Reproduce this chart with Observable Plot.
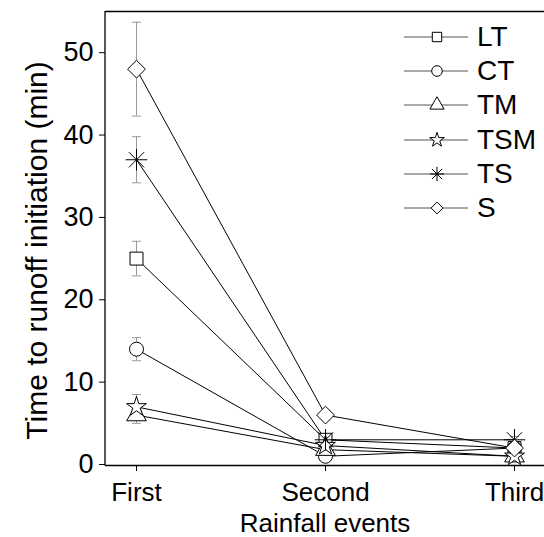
<!DOCTYPE html>
<html>
<head>
<meta charset="utf-8">
<script src="https://cdn.jsdelivr.net/npm/d3@7"></script>
<script src="https://cdn.jsdelivr.net/npm/@observablehq/plot@0.6"></script>
<style>
  html, body { margin: 0; padding: 0; background: #fff; }
  #wrap { position: relative; width: 544px; height: 537px; font-family: "Liberation Sans", Arial, sans-serif; }
  #legend { position: absolute; left: 404px; top: 20px; }
  .row { display: flex; align-items: center; height: 34.2px; }
  .row span { font-size: 28px; color: #000; margin-left: 9px; }
</style>
</head>
<body>
<div id="wrap"><div id="legend"></div></div>
<script>
// ---- data ----
const events = ["First", "Second", "Third"];
const seriesNames = ["LT", "CT", "TM", "TSM", "TS", "S"];
const LT  = [25, 3, 2];
const CT  = [14, 1, 2];
const TM  = [6, 1.8, 1];
const TSM = [7, 2.3, 1];
const TS  = [37, 3, 3];
const S   = [48, 6, 2];
const LT_err  = [2.1, 0.5, 0.4];
const CT_err  = [1.4, 0.4, 0.3];
const TM_err  = [1.0, 0.4, 0.3];
const TSM_err = [1.5, 0.4, 0.3];
const TS_err  = [2.8, 0.6, 0.4];
const S_err   = [5.7, 0.6, 0.4];
const yTicks = [0, 10, 20, 30, 40, 50];
const xLabel = "Rainfall events";
const yLabel = "Time to runoff initiation (min)";

// ---- custom symbols ----
const asterisk8 = {
  draw(ctx, size) {
    const r = Math.sqrt(size / Math.PI) * 1.35;
    const d = r * Math.SQRT1_2;
    ctx.moveTo(-r, 0); ctx.lineTo(r, 0);
    ctx.moveTo(0, -r); ctx.lineTo(0, r);
    ctx.moveTo(-d, -d); ctx.lineTo(d, d);
    ctx.moveTo(-d, d); ctx.lineTo(d, -d);
  }
};
const hline = {
  draw(ctx, size) {
    const r = Math.sqrt(size / Math.PI);
    ctx.moveTo(-r, 0); ctx.lineTo(r, 0);
  }
};
const symbols = {
  LT: "square", CT: "circle", TM: "triangle", TSM: "star", TS: asterisk8, S: "diamond2"
};
const symR = { LT: 7.3, CT: 7, TM: 7.3, TSM: 6.2, TS: 8, S: 8 };

const valuesBy = { LT, CT, TM, TSM, TS, S };
const errBy = { LT: LT_err, CT: CT_err, TM: TM_err, TSM: TSM_err, TS: TS_err, S: S_err };

const rows = [];
for (const s of seriesNames) {
  events.forEach((e, i) => {
    rows.push({ series: s, event: e, value: valuesBy[s][i], err: errBy[s][i] });
  });
}

const marks = [];
// lines
for (const s of seriesNames) {
  marks.push(Plot.line(rows.filter(d => d.series === s), { x: "event", y: "value", stroke: "#000", strokeWidth: 1 }));
}
// error bars
marks.push(Plot.ruleX(rows, { x: "event", y1: d => d.value - d.err, y2: d => d.value + d.err, stroke: "#9a9a9a", strokeWidth: 1 }));
marks.push(Plot.dot(rows, { x: "event", y: d => d.value + d.err, symbol: hline, r: 4.5, stroke: "#9a9a9a", strokeWidth: 1 }));
marks.push(Plot.dot(rows, { x: "event", y: d => d.value - d.err, symbol: hline, r: 4.5, stroke: "#9a9a9a", strokeWidth: 1 }));
// markers
for (const s of seriesNames) {
  marks.push(Plot.dot(rows.filter(d => d.series === s), {
    x: "event", y: "value", symbol: symbols[s], r: symR[s],
    stroke: "#000", strokeWidth: 1, fill: s === "TS" ? "none" : "#fff"
  }));
}
// frame lines
marks.push(Plot.ruleY([55], { stroke: "#000", strokeWidth: 1.3 }));
marks.push(Plot.ruleY([-0.12], { stroke: "#000", strokeWidth: 1.3 }));
// axes
marks.push(Plot.axisY({ ticks: yTicks, tickSize: 6, tickPadding: 6, fontSize: 27, label: null, tickFormat: d => String(d) }));
marks.push(Plot.axisX({ tickSize: 6, tickPadding: 11, fontSize: 26, label: null }));
marks.push(Plot.text([xLabel], { frameAnchor: "bottom", dy: 58, fontSize: 26, lineAnchor: "middle" }));
marks.push(Plot.text([yLabel], { frameAnchor: "left", textAnchor: "middle", dx: -68, dy: 12, rotate: -90, fontSize: 30, lineAnchor: "middle" }));

const chart = Plot.plot({
  width: 544,
  height: 537,
  marginLeft: 105,
  marginRight: 0,
  marginTop: 11,
  marginBottom: 72,
  style: { fontFamily: "'Liberation Sans', Arial, sans-serif", color: "#000", background: "#fff", overflow: "visible" },
  x: { type: "point", domain: events, padding: 0.16 },
  y: { domain: [-0.12, 55] },
  marks
});
// left axis line
const svg = d3.select(chart);
svg.append("line").attr("x1", 105).attr("x2", 105).attr("y1", 11).attr("y2", 465.5)
  .attr("stroke", "#000").attr("stroke-width", 1.3);

const wrap = document.getElementById("wrap");
wrap.insertBefore(chart, wrap.firstChild);
chart.style.position = "absolute";
chart.style.left = "0";
chart.style.top = "0";

// legend
const legend = d3.select("#legend");
for (const s of seriesNames) {
  const row = legend.append("div").attr("class", "row");
  const ls = row.append("svg").attr("width", 64).attr("height", 20);
  ls.append("line").attr("x1", 0).attr("x2", 64).attr("y1", 10).attr("y2", 10).attr("stroke", "#555").attr("stroke-width", 1);
  const sym = symbols[s];
  const type = typeof sym === "string"
    ? { square: d3.symbolSquare, circle: d3.symbolCircle, triangle: d3.symbolTriangle, star: d3.symbolStar, diamond2: d3.symbolDiamond2 }[sym]
    : sym;
  const r = s === "TSM" ? 4.6 : 5.3;
  ls.append("path").attr("transform", "translate(33,10)")
    .attr("d", d3.symbol(type, r * r * Math.PI)())
    .attr("fill", s === "TS" ? "none" : "#fff").attr("stroke", "#000").attr("stroke-width", 1);
  if (s === "TS") ls.append("circle").attr("cx", 33).attr("cy", 10).attr("r", 1.3).attr("fill", "#000");
  row.append("span").text(s);
}
</script>
</body>
</html>
